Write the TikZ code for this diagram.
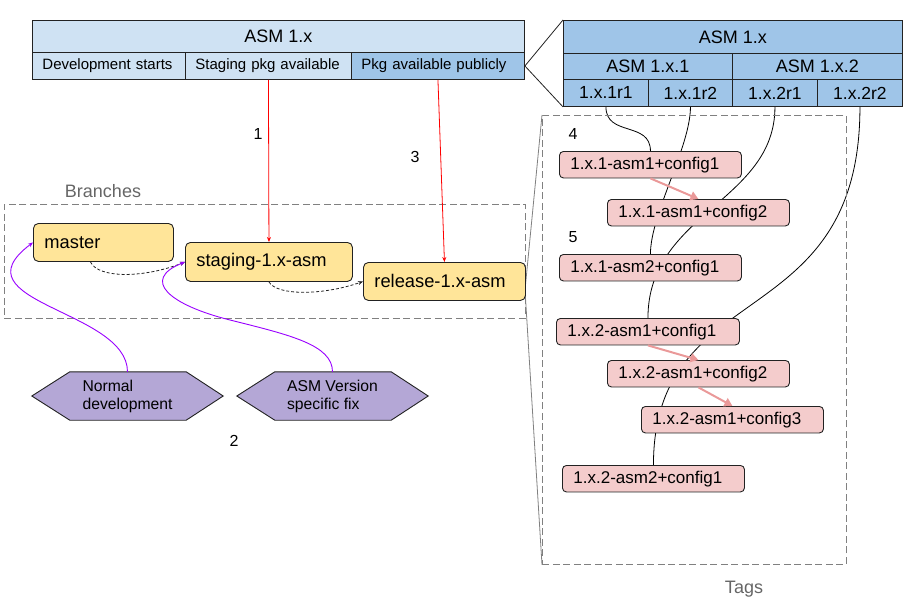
\documentclass[tikz,border=0pt]{standalone}
\usepackage{fontspec}
\setmainfont{Liberation Sans}
\usetikzlibrary{arrows.meta,backgrounds,calc}
\definecolor{lblue}{HTML}{CFE2F3}
\definecolor{mblue}{HTML}{9FC5E8}
\definecolor{byellow}{HTML}{FFE599}
\definecolor{tpink}{HTML}{F4CCCC}
\definecolor{hexfill}{HTML}{B4A7D6}
\definecolor{violetline}{HTML}{9900FF}
\definecolor{salmon}{HTML}{EA9999}
\definecolor{edge}{HTML}{222222}
\definecolor{greytext}{HTML}{666666}
\definecolor{greyline}{HTML}{808080}
\begin{document}
\begin{tikzpicture}[x=1pt,y=-1pt,
  cellbox/.style={draw=edge, line width=0.9pt, inner sep=0pt, anchor=north west, text=black},
  leftcell/.style={cellbox, inner xsep=10pt, align=left, font=\fontsize{15}{17}\selectfont},
  bigcell/.style={cellbox, font=\fontsize{18}{21}\selectfont},
  rcell/.style={cellbox, fill=mblue, minimum height=27, font=\fontsize{17.5}{20}\selectfont},
  branchbox/.style={draw=edge, line width=0.9pt, fill=byellow, rounded corners=5pt, anchor=north west,
    inner xsep=11pt, inner ysep=0pt, align=left, font=\fontsize{18.3}{21}\selectfont},
  tagbox/.style={draw=edge, line width=0.9pt, fill=tpink, rounded corners=4pt, anchor=north west,
    inner xsep=11pt, inner ysep=0pt, align=left, minimum height=26.5, font=\fontsize{17}{20}\selectfont},
  hexnode/.style={inner sep=0pt, minimum width=191, minimum height=48, align=left, font=\fontsize{15.7}{18}\selectfont},
  hexshape/.style={draw=edge, line width=0.9pt, fill=hexfill},
  groupbox/.style={draw=greyline, dashed, dash pattern=on 7pt off 3.5pt, line width=0.8pt, anchor=north west, inner sep=0pt},
  grouplbl/.style={text=greytext, font=\fontsize{18}{21}\selectfont},
  numlbl/.style={text=black, font=\fontsize{16}{19}\selectfont},
  zoomline/.style={draw=edge, line width=0.8pt},
  zoomline2/.style={draw=greyline, line width=0.8pt},
  redarr/.style={draw=red, line width=0.8pt, -{Stealth[length=5pt,width=4pt]}},
  dasharr/.style={draw=edge, line width=0.8pt, dashed, dash pattern=on 3pt off 2pt, -{Stealth[length=5pt,width=4pt]}},
  violetarr/.style={draw=violetline, line width=0.9pt, -{Stealth[length=5pt,width=4pt]}},
  salarr/.style={draw=salmon, line width=2pt, -{Triangle[length=8pt,width=9pt]}},
  tagline/.style={draw=black, line width=0.8pt}
]
\useasboundingbox (0,0) rectangle (913,603);

% ---- left table
\node[bigcell, fill=lblue, minimum width=492, minimum height=32] (asmL) at (32,20) {ASM 1.x};
\node[leftcell, fill=lblue, text width=133, minimum height=27] (cellA) at (32,52) {Development starts};
\node[leftcell, fill=lblue, text width=146, minimum height=27] (cellB) at (185,52) {Staging pkg available};
\node[leftcell, fill=mblue, text width=153, minimum height=27] (cellC) at (351,52) {Pkg available publicly};

% ---- right table
\node[bigcell, fill=mblue, minimum width=339, minimum height=33] (asmR) at (563,20) {ASM 1.x};
\node[bigcell, fill=mblue, minimum width=169, minimum height=26] (asm1) at (563,53) {ASM 1.x.1};
\node[bigcell, fill=mblue, minimum width=170, minimum height=26] (asm2) at (732,53) {ASM 1.x.2};
\node[rcell, minimum width=85] (r11) at (563,79) {1.x.1r1};
\node[rcell, minimum width=84] (r12) at (648,79) {1.x.1r2};
\node[rcell, minimum width=85] (r21) at (732,79) {1.x.2r1};
\node[rcell, minimum width=85] (r22) at (817,79) {1.x.2r2};

\draw[zoomline] (cellC.east) -- (asmR.north west);
\draw[zoomline] (cellC.east) -- (r11.south west);

% ---- groups
\node[groupbox, minimum width=521, minimum height=114] (brbox) at (4,204) {};
\node[grouplbl] (brlbl) at (103,191) {Branches};
\node[groupbox, minimum width=304, minimum height=449] (tgbox) at (542,115) {};
\node[grouplbl] (tglbl) at (744,589) {Tags};
\coordinate (apex) at (525,290);
\draw[zoomline2] (apex) -- (tgbox.north west);
\draw[zoomline2] (apex) -- (tgbox.south west);

% ---- branches
\node[branchbox, text width=118, minimum height=38] (master) at (33,223) {master};
\node[branchbox, text width=145, minimum height=39] (staging) at (185,242) {staging-1.x-asm};
\node[branchbox, text width=140, minimum height=38] (release) at (363,262) {release-1.x-asm};

% ---- hexagons
\node[hexnode] (hexA) at (127.5,396) {Normal\\development};
\node[hexnode] (hexB) at (332.5,396) {ASM Version\\specific fix};

% ---- tags
\node[tagbox, text width=160] (t1) at (559,151) {1.x.1-asm1+config1};
\node[tagbox, text width=160] (t2) at (607,199) {1.x.1-asm1+config2};
\node[tagbox, text width=160] (t3) at (559,254) {1.x.1-asm2+config1};
\node[tagbox, text width=161] (t4) at (556,318) {1.x.2-asm1+config1};
\node[tagbox, text width=160] (t5) at (607,360) {1.x.2-asm1+config2};
\node[tagbox, text width=160] (t6) at (641,406) {1.x.2-asm1+config3};
\node[tagbox, text width=160] (t7) at (562,465) {1.x.2-asm2+config1};

% ---- number labels
\node[numlbl] (n1) at (258,134) {1};
\node[numlbl] (n3) at (415,157) {3};
\node[numlbl] (n2) at (234,441) {2};
\node[numlbl] (n4) at (573,134) {4};
\node[numlbl] (n5) at (573,237) {5};

% ---- background drawings
\begin{scope}[on background layer]
  \draw[hexshape] (hexA.west) -- ([xshift=38pt]hexA.north west) -- ([xshift=-37pt]hexA.north east)
     -- (hexA.east) -- ([xshift=-37pt]hexA.south east) -- ([xshift=38pt]hexA.south west) -- cycle;
  \draw[hexshape] (hexB.west) -- ([xshift=38pt]hexB.north west) -- ([xshift=-37pt]hexB.north east)
     -- (hexB.east) -- ([xshift=-37pt]hexB.south east) -- ([xshift=38pt]hexB.south west) -- cycle;
  \draw[tagline] (r11.south) .. controls +(0,30) and +(0,-30) .. (t1.north);
  \draw[tagline] (r12.south) .. controls +(0,40) and +(0,-40) .. (t3.north);
  \draw[tagline] (r21.south) .. controls +(0,95) and +(0,-105) .. (t4.north);
  \draw[tagline] (r22.south) .. controls +(0,230) and +(0,-190) .. (t7.north);
\end{scope}

% ---- connectors
\draw[redarr] (cellB.south) -- (staging.north);
\draw[redarr] (cellC.south) -- (release.north);
\draw[dasharr] ([xshift=-13pt]master.south) .. controls +(8,17) and +(-40,16) .. (staging.west);
\draw[dasharr] (staging.south) .. controls +(8,14) and +(-40,14) .. (release.west);
\draw[violetarr] (hexA.north) .. controls +(0,-62) and +(-80,60) .. (master.west);
\draw[violetarr] (hexB.north) .. controls +(0,-27) and (290,335) .. (230,320)
   .. controls (170,305) and (140,280) .. (staging.west);
\draw[salarr] (t1.south) -- (t2.north);
\draw[salarr] (t4.south) -- (t5.north);
\draw[salarr] (t5.south) -- (t6.north);
\end{tikzpicture}
\end{document}
